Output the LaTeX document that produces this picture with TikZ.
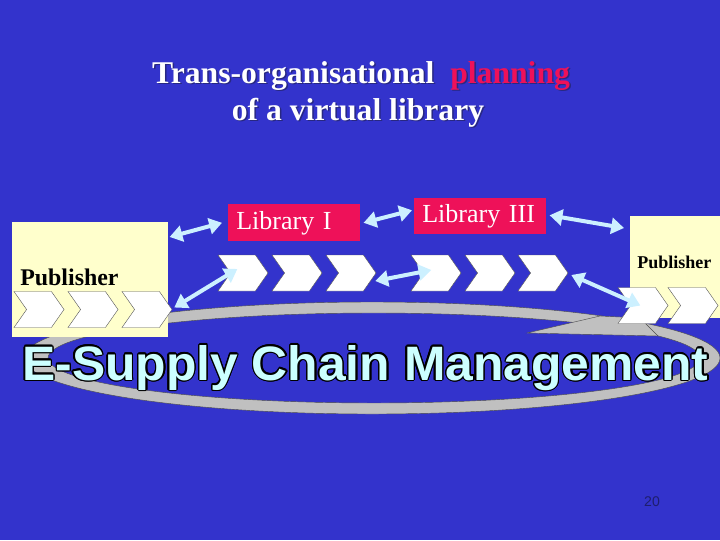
\documentclass[tikz,border=0pt]{standalone}
\usepackage{fontspec}
\setmainfont{Liberation Serif}
\newfontfamily\sansfont{Liberation Sans}
\usepackage{contour}
\usetikzlibrary{arrows.meta,shapes.symbols,calc}

\definecolor{slideblue}{RGB}{51,51,204}
\definecolor{libred}{RGB}{238,17,89}
\definecolor{pubyellow}{RGB}{255,255,204}
\definecolor{linkcyan}{RGB}{204,240,255}
\definecolor{swoosh}{RGB}{192,192,192}
\definecolor{textcyan}{RGB}{204,255,255}
\definecolor{pagenum}{RGB}{30,30,110}
\definecolor{shadow}{RGB}{40,40,130}

\contourlength{1pt}

\tikzset{
  libbox/.style = {fill = libred, text = white, anchor = north west,
                   inner xsep = 0.2cm, inner ysep = 0pt, text width = 2.9cm,
                   align = left, font = \fontsize{18.5}{20}\selectfont},
  pubbox/.style = {fill = pubyellow, anchor = north west, inner sep = 0pt},
  chev/.style   = {signal, signal from = west, signal to = east,
                   signal pointer angle = 110, fill = white,
                   draw = gray!70!black, line width = 0.3pt,
                   minimum width = 1.25cm, minimum height = 0.9cm, inner sep = 0pt},
  link/.style   = {draw = linkcyan, line width = 0.1cm,
                   {Triangle[length = 0.32cm, width = 0.4cm]}-{Triangle[length = 0.32cm, width = 0.4cm]}}
}

\begin{document}
\begin{tikzpicture}[x = 0.025cm, y = -0.025cm]
            \useasboundingbox (0, 0) rectangle (720, 540);
            \fill [slideblue] (0, 0) rectangle (720, 540);

            % title
            \node (titleshadow) [anchor = base, text = shadow,
                  font = \fontsize{22.5}{26}\selectfont\bfseries]
                  at (362.5, 84.5) {Trans-organisational\ \ planning};
            \node (title) [anchor = base, text = white,
                  font = \fontsize{22.5}{26}\selectfont\bfseries]
                  at (361, 83) {Trans-organisational\ \ \textcolor{libred}{planning}};
            \node (subtitleshadow) [anchor = base, text = shadow,
                  font = \fontsize{22.5}{26}\selectfont\bfseries]
                  at (359.5, 121.5) {of a virtual library};
            \node (subtitle) [anchor = base, text = white,
                  font = \fontsize{22.5}{26}\selectfont\bfseries]
                  at (358, 120) {of a virtual library};

            % swoosh ring
            \fill [swoosh, even odd rule, draw = black!70, line width = 0.3pt]
                  (372, 358) ellipse [x radius = 348, y radius = 56]
                  (374, 358) ellipse [x radius = 326, y radius = 45];
            \fill [swoosh, draw = black!70, line width = 0.3pt]
                  (527, 333) -- (600, 316) -- (640, 318) -- (658, 336) -- cycle;

            % publishers and libraries
            \node (pubL) [pubbox, minimum width = 3.9cm, minimum height = 2.875cm]
                  at (12, 222) {};
            \node (pubLtext) [anchor = base west, inner sep = 0pt,
                  font = \fontsize{17}{20}\selectfont\bfseries]
                  at (20, 285) {Publisher};

            \node (pubR) [pubbox, minimum width = 2.35cm, minimum height = 2.55cm]
                  at (630, 216) {};
            \node (pubRtext) [anchor = base west, inner sep = 0pt,
                  font = \fontsize{12.8}{15}\selectfont\bfseries]
                  at (637, 268) {Publisher};

            \node (libI) [libbox, minimum height = 0.925cm] at (228, 204) {Library I};
            \node (libIII) [libbox, minimum height = 0.9cm] at (414, 198) {Library III};

            % process chevrons
            \foreach \n/\x in {1/39, 2/93, 3/147}
                  \node (lc\n) [chev] at (\x, 309.5) {};
            \foreach \n/\x in {1/243, 2/297, 3/351, 4/436, 5/490, 6/543}
                  \node (m\n) [chev] at (\x, 273) {};
            \foreach \n/\x in {1/643, 2/693}
                  \node (rc\n) [chev] at (\x, 305.5) {};

            % big label
            \node (escm) [anchor = base west, inner sep = 0pt] at (22, 380)
                  {\resizebox{17.15cm}{0.875cm}{\contour{black}{\textcolor{textcyan}%
                  {\fontsize{36}{40}\sansfont\bfseries E-Supply Chain Management}}}};

            % links
            \draw [link] ($(pubL.north east) + (1, 15)$) -- ($(libI.west) + (-6, 0)$); % publisher <-> library I
            \draw [link] ($(libI.east) + (3, 0)$) -- ($(libIII.west) + (-2, -6)$); % library I <-> library III
            \draw [link] ($(libIII.east) + (3, -1)$) -- ($(pubR.north west) + (-6, 12)$); % library III <-> publisher
            \draw [link] ($(lc3.east) + (2, -2)$) -- ($(m1.west) + (7, -4)$);
            \draw [link] ($(m3.east) + (-1, 8)$) -- ($(m4.west) + (8, -3)$);
            \draw [link] ($(m6.east) + (3, 2)$) -- ($(rc1.west) + (10, 0)$);

            \node (page) [text = pagenum, font = \fontsize{10}{12}\sansfont]
                  at (652, 502) {20};
        \end{tikzpicture}
\end{document}
